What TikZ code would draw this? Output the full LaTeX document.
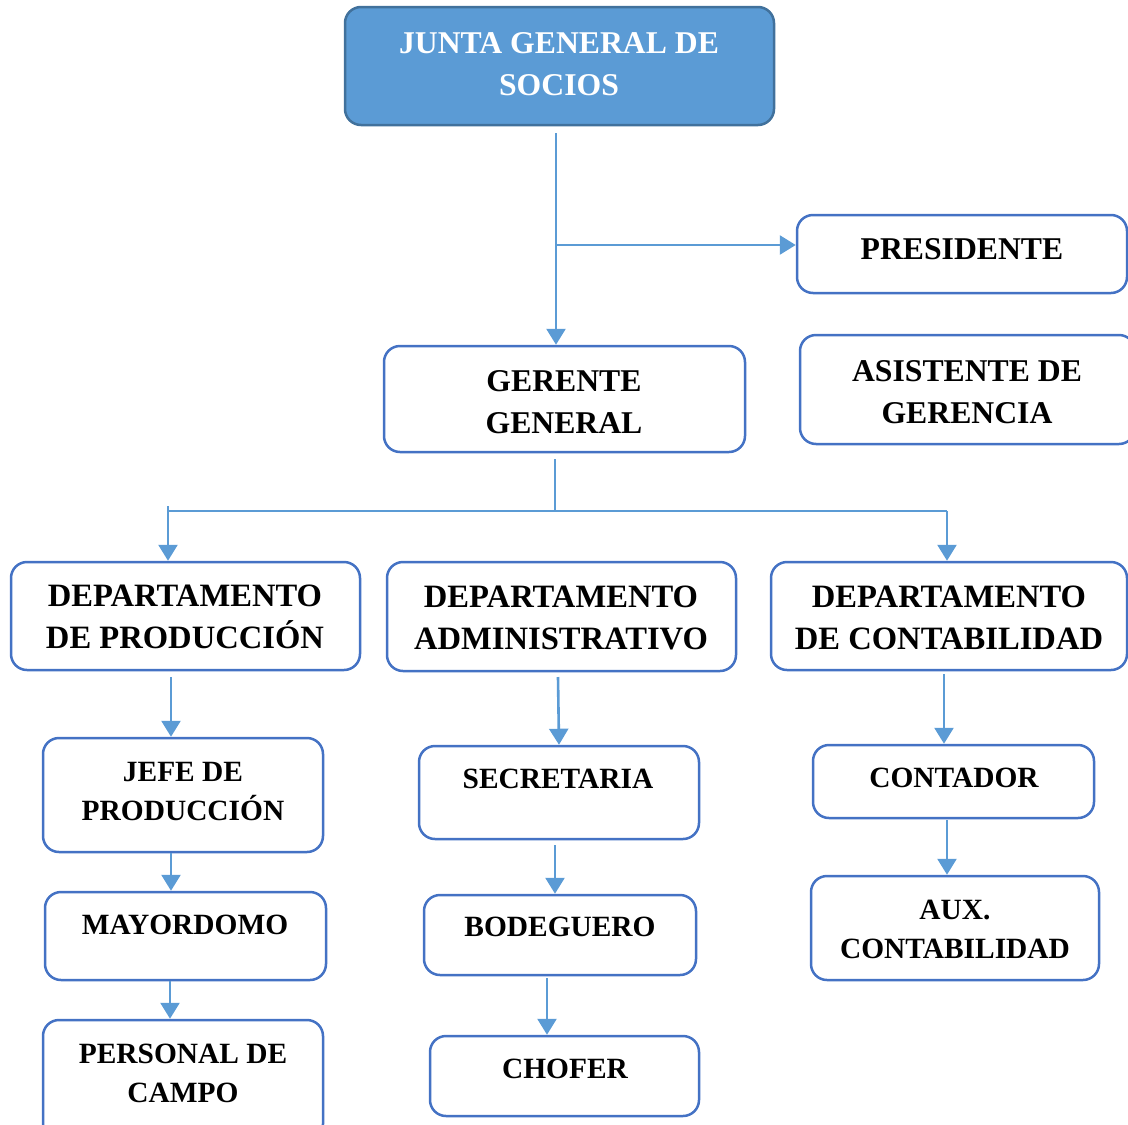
\documentclass[tikz,border=0pt]{standalone}
\usepackage{fontspec}
\setmainfont{Liberation Serif}
\usetikzlibrary{arrows.meta}
\definecolor{boxline}{HTML}{4472C4}
\definecolor{arrowc}{HTML}{5B9BD5}
\definecolor{juntafill}{HTML}{5B9BD5}
\definecolor{juntaline}{HTML}{41719C}
\begin{document}
\begin{tikzpicture}[x=1pt,y=-1pt,
  orgbox/.style={draw=boxline, line width=2.5pt, rounded corners=16pt, fill=white, inner sep=0pt},
  bigtxt/.style={font=\fontsize{31.7}{42}\selectfont\bfseries, align=center, inner sep=0pt},
  depttxt/.style={font=\fontsize{32.6}{42}\selectfont\bfseries, align=center, inner sep=0pt},
  smalltxt/.style={font=\fontsize{29.4}{39}\selectfont\bfseries, align=center, inner sep=0pt},
  arr/.style={draw=arrowc, line width=2.6pt, -{Triangle[width=19pt,length=16pt]}},
  ln/.style={draw=arrowc, line width=1.6pt}]
\useasboundingbox (0,0) rectangle (1128,1125);

% boxes
\node[orgbox, draw=juntaline, fill=juntafill, minimum width=429pt, minimum height=118pt] (junta) at (559.5,66) {};
\node[orgbox, minimum width=330pt, minimum height=78pt] (pres) at (962,254) {};
\node[orgbox, minimum width=335pt, minimum height=109pt] (asis) at (967.5,389.5) {};
\node[orgbox, minimum width=361pt, minimum height=106pt] (ger) at (564.5,399) {};
\node[orgbox, minimum width=349pt, minimum height=108pt] (dprod) at (185.5,616) {};
\node[orgbox, minimum width=349pt, minimum height=109pt] (dadm) at (561.5,616.5) {};
\node[orgbox, minimum width=356pt, minimum height=108pt] (dcont) at (949,616) {};
\node[orgbox, minimum width=280pt, minimum height=114pt] (jefe) at (183,795) {};
\node[orgbox, minimum width=281pt, minimum height=88pt] (mayor) at (185.5,936) {};
\node[orgbox, minimum width=280pt, minimum height=120pt] (pers) at (183,1080) {};
\node[orgbox, minimum width=280pt, minimum height=93pt] (secr) at (559,792.5) {};
\node[orgbox, minimum width=272pt, minimum height=80pt] (bode) at (560,935) {};
\node[orgbox, minimum width=269pt, minimum height=80pt] (chof) at (564.5,1076) {};
\node[orgbox, minimum width=281pt, minimum height=73pt] (cont) at (953.5,781.5) {};
\node[orgbox, minimum width=288pt, minimum height=104pt] (aux) at (955,928) {};

% texts
\node[bigtxt, text=white] (juntaT) at (559,64) {JUNTA GENERAL DE\\SOCIOS};
\node[bigtxt] (presT) at (962,249) {PRESIDENTE};
\node[bigtxt] (asisT) at (967,392) {ASISTENTE DE\\GERENCIA};
\node[bigtxt] (gerT) at (564,402) {GERENTE\\GENERAL};
\node[depttxt] (dprodT) at (185,617) {DEPARTAMENTO\\DE PRODUCCIÓN};
\node[depttxt] (dadmT) at (561,618) {DEPARTAMENTO\\ADMINISTRATIVO};
\node[depttxt] (dcontT) at (949,618) {DEPARTAMENTO\\DE CONTABILIDAD};
\node[smalltxt] (jefeT) at (183,791.5) {JEFE DE\\PRODUCCIÓN};
\node[smalltxt] (mayorT) at (185,925) {MAYORDOMO};
\node[smalltxt] (persT) at (183,1073.5) {PERSONAL DE\\CAMPO};
\node[smalltxt] (secrT) at (558,779) {SECRETARIA};
\node[smalltxt] (bodeT) at (560,927) {BODEGUERO};
\node[smalltxt] (chofT) at (565,1069) {CHOFER};
\node[smalltxt] (contT) at (954,778) {CONTADOR};
\node[smalltxt] (auxT) at (955,929) {AUX.\\CONTABILIDAD};

% connectors
\coordinate (j1) at (556,133);
\draw[arr] (j1) -- (j1 |- ger.north);
\coordinate (b1) at (557,245);
\draw[arr] (b1) -- (b1 -| pres.west);
\coordinate (g1) at (555,459);
\coordinate (g2) at (555,511);
\draw[ln] (g1) -- (g2);
\coordinate (hl) at (168,511);
\coordinate (hr) at (947,511);
\draw[ln] (hl) -- (hr);
\coordinate (hl0) at (168,506);
\draw[arr] (hl0) -- (hl0 |- dprod.north);
\draw[arr] (hr) -- (hr |- dcont.north);
\coordinate (p1) at (171,677);
\draw[arr] (p1) -- (p1 |- jefe.north);
\coordinate (p2) at (171,853);
\draw[arr] (p2) -- (p2 |- mayor.north);
\coordinate (p3) at (170,981);
\draw[arr] (p3) -- (p3 |- pers.north);
\coordinate (a1) at (558,677);
\draw[arr] (a1) -- (secr.north);
\coordinate (a2) at (555,845);
\draw[arr] (a2) -- (a2 |- bode.north);
\coordinate (a3) at (547,978);
\draw[arr] (a3) -- (a3 |- chof.north);
\coordinate (c1) at (944,674);
\draw[arr] (c1) -- (c1 |- cont.north);
\coordinate (c2) at (947,820);
\draw[arr] (c2) -- (c2 |- aux.north);
\end{tikzpicture}
\end{document}
